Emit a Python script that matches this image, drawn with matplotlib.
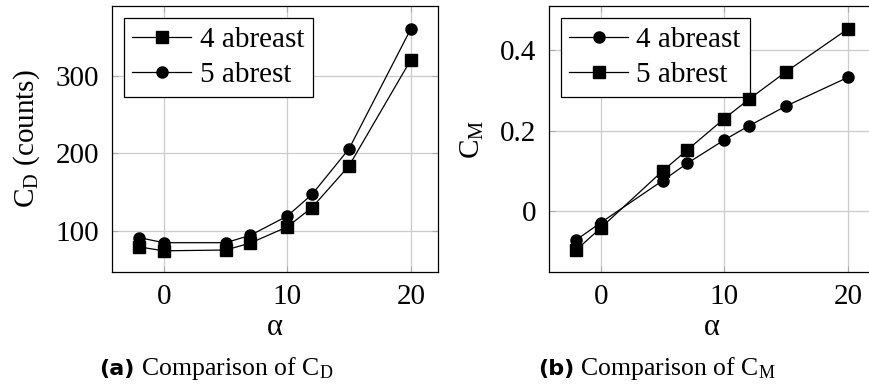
import matplotlib
matplotlib.use("Agg")
import matplotlib.pyplot as plt

# ---- data ----
alpha = [-2, 0, 5, 7, 10, 12, 15, 20]
cd_4abreast = [79, 74, 75, 84, 105, 130, 184, 321]
cd_5abrest = [91, 84.5, 84.5, 94, 119, 147, 206, 361]
cm_4abreast = [-0.071, -0.028, 0.076, 0.119, 0.177, 0.212, 0.261, 0.332]
cm_5abrest = [-0.096, -0.041, 0.100, 0.152, 0.230, 0.278, 0.346, 0.452]
xticks = [0, 10, 20]
cd_yticks = [100, 200, 300]
cm_yticks = [0, 0.2, 0.4]
cm_yticklabels = ["0", "0.2", "0.4"]

plt.rcParams['font.family'] = ['Liberation Serif', 'DejaVu Serif']
plt.rcParams['mathtext.fontset'] = 'custom'
plt.rcParams['mathtext.rm'] = 'Liberation Serif'
plt.rcParams['mathtext.it'] = 'Liberation Serif:italic'

W, H = 869, 390
fig = plt.figure(figsize=(W / 100, H / 100), dpi=100)

def px_axes(x0, y0, x1, y1):
    return fig.add_axes([x0 / W, 1 - y1 / H, (x1 - x0) / W, (y1 - y0) / H])

ax1 = px_axes(112, 6, 438, 272)
ax2 = px_axes(549, 6, 875, 272)

fs = 21

def style(ax):
    ax.grid(True, color='#cccccc', linewidth=0.9)
    ax.set_axisbelow(True)
    ax.tick_params(direction='in', length=4, color='#aaaaaa', labelsize=fs,
                   pad=9, top=True, right=True)
    for s in ax.spines.values():
        s.set_linewidth(0.9)
        s.set_color('black')

ax1.plot(alpha, cd_4abreast, color='black', lw=0.9, marker='s', ms=8, label='4 abreast', zorder=6)
ax1.plot(alpha, cd_5abrest, color='black', lw=0.9, marker='o', ms=8, label='5 abrest', zorder=6)
ax1.set_xlim(-4.2, 22.2)
ax1.set_ylim(46.6, 390.6)
ax1.set_xticks(xticks)
ax1.set_yticks(cd_yticks)
style(ax1)
ax1.set_xlabel('α', fontsize=fs + 1, labelpad=2)
ax1.set_ylabel(r'$\mathrm{C}_{\mathrm{D}}$ (counts)', fontsize=fs, labelpad=10)

ax2.plot(alpha, cm_4abreast, color='black', lw=0.9, marker='o', ms=8, label='4 abreast', zorder=6)
ax2.plot(alpha, cm_5abrest, color='black', lw=0.9, marker='s', ms=8, label='5 abrest', zorder=6)
ax2.set_xlim(-4.2, 22.2)
ax2.set_ylim(-0.1505, 0.509)
ax2.set_xticks(xticks)
ax2.set_yticks(cm_yticks)
ax2.set_yticklabels(cm_yticklabels)
style(ax2)
ax2.set_xlabel('α', fontsize=fs + 1, labelpad=2)
ax2.set_ylabel(r'$\mathrm{C}_{\mathrm{M}}$', fontsize=fs, labelpad=10)

for ax in (ax1, ax2):
    leg = ax.legend(loc='upper left', fontsize=fs, frameon=True, fancybox=False,
                    edgecolor='black', framealpha=1, handlelength=2.0,
                    handletextpad=0.3, borderpad=0.3, labelspacing=0.3,
                    borderaxespad=0.4)
    leg.get_frame().set_linewidth(0.9)
    leg.set_zorder(5)

# captions
for cx, lab, sub in ((216, '(a)', 'D'), (657, '(b)', 'M')):
    t1 = fig.text(0, 0, lab, fontsize=16, fontweight='bold', family='DejaVu Sans',
                  ha='left', va='baseline')
    t2 = fig.text(0, 0, ' Comparison of $\\mathrm{C}_{\\mathrm{%s}}$' % sub, fontsize=18.5,
                  ha='left', va='baseline')
    fig.canvas.draw()
    r = fig.canvas.get_renderer()
    w1 = t1.get_window_extent(r).width
    w2 = t2.get_window_extent(r).width
    x0 = cx - (w1 + w2) / 2
    t1.set_position((x0 / W, 1 - 375 / H))
    t2.set_position(((x0 + w1) / W, 1 - 375 / H))

fig.savefig('out.png', dpi=100)
